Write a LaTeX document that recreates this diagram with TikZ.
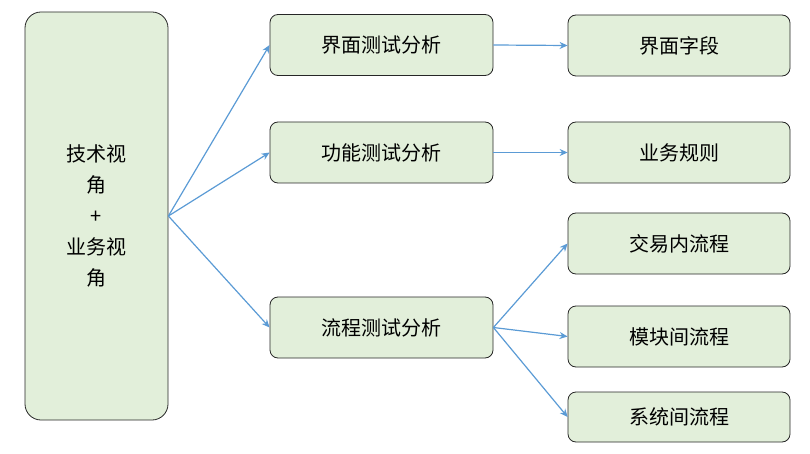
\documentclass[tikz,border=0pt]{standalone}
\usepackage{fontspec}
\newfontfamily\cjk{Noto Sans CJK SC}
\usetikzlibrary{positioning, arrows.meta}
\definecolor{boxfill}{RGB}{226,239,218}
\definecolor{arrowblue}{RGB}{91,155,213}
\tikzset{
	box/.style={draw=black!85, thick, fill=boxfill, rounded corners=8pt, font=\cjk\fontsize{20}{31}\selectfont, align=center, inner sep=0pt},
	midbox/.style={box, minimum width=223pt, minimum height=61pt},
	leafbox/.style={box, minimum width=222pt, minimum height=61pt},
	link/.style={draw=arrowblue, line width=1.2pt, -{Stealth[length=8pt, width=7pt]}}
}
\begin{document}
\begin{tikzpicture}[x=1pt, y=-1pt]
	\useasboundingbox (0,0) rectangle (810,454);
	
	% Left view box
	\node[box, minimum width=143pt, minimum height=408pt, rounded corners=16pt] (view) at (96.5,216) {技术视\\角\\+\\业务视\\角};
	
	% Analysis boxes
	\node[midbox] (ui) at (381.5,45) {界面测试分析};
	\node[midbox] (func) at (381.5,152.5) {功能测试分析};
	\node[midbox] (flow) at (381.5,327.5) {流程测试分析};
	
	% Leaf boxes
	\node[leafbox] (field) at (679,45.5) {界面字段};
	\node[leafbox] (rule) at (679,152.5) {业务规则};
	\node[leafbox] (trade) at (679,243.5) {交易内流程};
	\node[leafbox] (module) at (679,336.5) {模块间流程};
	\node[leafbox, minimum height=50pt] (system) at (679,417) {系统间流程};
	
	% Connectors
	\coordinate (vout) at (view.east);
	\foreach \dst in {ui, func, flow}
		\draw[link] (vout) -- (\dst.west);
	\draw[link] (ui.east) -- (field.west);
	\draw[link] (func.east) -- (rule.west);
	\foreach \dst in {trade, module, system}
		\draw[link] (flow.east) -- (\dst.west);
\end{tikzpicture}
\end{document}
